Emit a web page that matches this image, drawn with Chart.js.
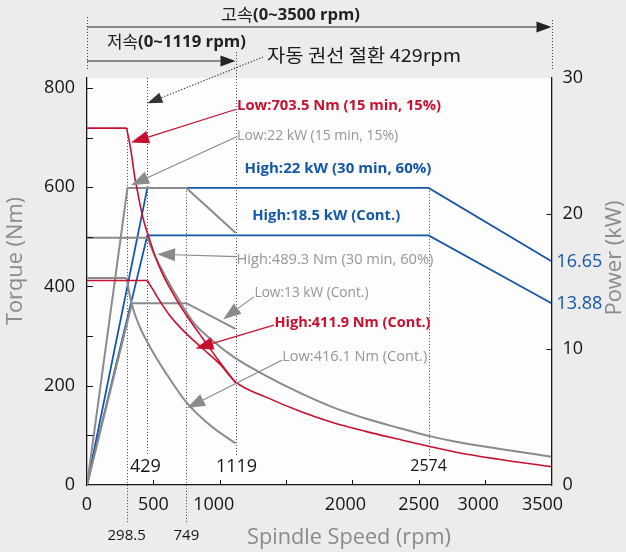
<!DOCTYPE html>
<html>
<head>
<meta charset="utf-8">
<script src="https://cdn.jsdelivr.net/npm/chart.js@4.4.1/dist/chart.umd.min.js"></script>
<style>
  html, body { margin: 0; padding: 0; background: #ececec; }
  #wrap { width: 626px; height: 552px; }
</style>
</head>
<body>
<div id="wrap"><canvas id="spindleChart"></canvas></div>
<script>
// ---- values ----
// torque curves (left axis, Nm) - first two points are the flat part
const lowPeakTorqueRpm = [0, 298.5, 327, 339, 357, 377, 402, 432, 465, 515, 566, 628, 700, 780, 870, 980, 1119];
const lowPeakTorqueNm  = [719, 719, 680, 660, 625, 596, 562, 528, 500, 460, 427, 395, 362, 330, 296, 255, 206];

const highContTorqueRpm = [0, 455, 500, 560, 628, 700, 780, 880, 1000, 1119, 1358, 1609, 1850, 2100, 2350, 2574, 2800, 3100, 3500];
const highContTorqueNm  = [412, 412, 392, 366, 340, 318, 297, 273, 244, 208, 176, 148, 126, 108, 92, 78, 65, 52, 37];

const high30TorqueRpm = [0, 455, 510, 566, 650, 803, 950, 1104, 1307, 1609, 1850, 2100, 2350, 2574, 2800, 3100, 3500];
const high30TorqueNm  = [498, 498, 462, 433, 392, 327, 290, 258, 226, 185, 157, 134, 115, 99, 86, 73, 57];

const lowContTorqueRpm = [0, 298.5, 335, 402, 503, 628, 754, 930, 1119];
const lowContTorqueNm  = [417, 417, 366, 316, 265, 212, 165, 120, 84];

// power lines (right axis, kW)
const lowPeakPowerRpm = [0, 305, 749, 1119];
const lowPeakPowerKw  = [0, 21.9, 21.9, 18.6];

const lowContPowerRpm = [0, 339, 749, 1119];
const lowContPowerKw  = [0, 13.4, 13.4, 11.5];

const high30PowerRpm = [0, 455, 2574, 3500];
const high30PowerKw  = [0, 21.9, 21.9, 16.5];

const highContPowerRpm = [0, 455, 2574, 3500];
const highContPowerKw  = [0, 18.4, 18.4, 13.4];

// axis ticks
const speedTicks = [0, 500, 1000, 2000, 2500, 3000, 3500];
const torqueTicks = [0, 200, 400, 600, 800];
const powerTicks = [0, 10, 20, 30];

// marked speeds (where the dotted lines sit) and their labels
const markerRpm  = [298.5, 455, 749, 1119, 2574];
const markerText = ['298.5', '429', '749', '1119', '2574'];

// end values written at the right axis
const endPowerText = ['16.65', '13.88'];

// ---- styles ----
const RED = '#c8102e';
const BLUE = '#1457a8';
const GRAY = '#8a8a8f';
const GRAY_TEXT = '#959595';
const INK = '#151515';
const LATIN = '"Open Sans", "Noto Sans", sans-serif';
const KOREAN = '"Noto Sans CJK KR", "Open Sans", sans-serif';
// the speed labels in the picture sit a little left of some ticks
const speedLabelShift = [0, 0, -6, -7, 0, -7, -9];

function pts(xs, ys) {
  return xs.map((x, i) => ({ x: x, y: ys[i] }));
}

function line(xs, ys, color, width, axis, smooth) {
  return {
    data: pts(xs, ys),
    yAxisID: axis,
    borderColor: color,
    borderWidth: width,
    pointRadius: 0,
    fill: false,
    tension: 0,
    cubicInterpolationMode: smooth ? 'monotone' : 'default'
  };
}

// flat part straight, falling part smooth
function torqueCurve(xs, ys, color, width) {
  return [
    line(xs.slice(0, 2), ys.slice(0, 2), color, width, 'yT', false),
    line(xs.slice(1), ys.slice(1), color, width, 'yT', true)
  ];
}

const datasets = [
  ...torqueCurve(lowPeakTorqueRpm, lowPeakTorqueNm, RED, 1.6),
  ...torqueCurve(highContTorqueRpm, highContTorqueNm, RED, 1.6),
  line(lowPeakPowerRpm, lowPeakPowerKw, GRAY, 2, 'yP', false),
  line(lowContPowerRpm, lowContPowerKw, GRAY, 2, 'yP', false),
  ...torqueCurve(high30TorqueRpm, high30TorqueNm, GRAY, 2),
  ...torqueCurve(lowContTorqueRpm, lowContTorqueNm, GRAY, 2),
  line(high30PowerRpm, high30PowerKw, BLUE, 1.8, 'yP', false),
  line(highContPowerRpm, highContPowerKw, BLUE, 1.8, 'yP', false)
];

// text callouts, anchored in (rpm, Nm)
const callouts = [
  { text: 'Low:703.5 Nm (15 min, 15%)', at: [1131, 764], w: 204, bold: true, color: RED, line: RED, from: [1124, 757], to: [332, 690] },
  { text: 'Low:22 kW (15 min, 15%)', at: [1131, 704], w: 161, color: GRAY_TEXT, line: GRAY, from: [1131, 702], to: [332, 604] },
  { text: 'High:22 kW (30 min, 60%)', at: [1186, 636], w: 187, bold: true, color: BLUE },
  { text: 'High:18.5 kW (Cont.)', at: [1245, 541], w: 148, bold: true, color: BLUE },
  { text: 'High:489.3 Nm (30 min, 60%)', at: [1126, 453], w: 197, color: GRAY_TEXT, line: GRAY, from: [1126, 460], to: [528, 465] },
  { text: 'Low:13 kW (Cont.)', at: [1262, 386], w: 114, color: GRAY_TEXT, line: GRAY, from: [1257, 379], to: [1026, 334] },
  { text: 'High:411.9 Nm (Cont.)', at: [1413, 326], w: 156, bold: true, color: RED, line: RED, from: [1408, 322], to: [817, 275] },
  { text: 'Low:416.1 Nm (Cont.)', at: [1471, 257], w: 145, color: GRAY_TEXT, line: GRAY, from: [1471, 252], to: [754, 155] }
];

function fitText(ctx, text, x, y, width, font, color, align) {
  ctx.save();
  ctx.font = font;
  ctx.fillStyle = color;
  ctx.textBaseline = 'middle';
  ctx.textAlign = align || 'left';
  const k = width ? width / ctx.measureText(text).width : 1;
  ctx.translate(x, y);
  ctx.scale(k, 1);
  ctx.fillText(text, 0, 0);
  ctx.restore();
}

function arrow(ctx, x1, y1, x2, y2, color, len, dotted) {
  const a = Math.atan2(y2 - y1, x2 - x1);
  const half = len * 0.36;
  const bx = x2 - len * Math.cos(a), by = y2 - len * Math.sin(a);
  ctx.save();
  ctx.strokeStyle = color;
  ctx.fillStyle = color;
  ctx.lineWidth = 1.2;
  if (dotted) ctx.setLineDash([1.2, 1.8]);
  ctx.beginPath();
  ctx.moveTo(x1, y1);
  ctx.lineTo(bx, by);
  ctx.stroke();
  ctx.setLineDash([]);
  ctx.beginPath();
  ctx.moveTo(x2, y2);
  ctx.lineTo(bx + half * Math.sin(a), by - half * Math.cos(a));
  ctx.lineTo(bx - half * Math.sin(a), by + half * Math.cos(a));
  ctx.closePath();
  ctx.fill();
  ctx.restore();
}

function dotted(ctx, x, y1, y2) {
  ctx.save();
  ctx.strokeStyle = '#444';
  ctx.lineWidth = 1;
  ctx.setLineDash([1, 2]);
  ctx.beginPath();
  ctx.moveTo(Math.round(x) + 0.5, y1);
  ctx.lineTo(Math.round(x) + 0.5, y2);
  ctx.stroke();
  ctx.restore();
}

//THIS DRAWS THE BACKGROUND AND THE WHITE PLOT AREA
const backdrop = {
  id: 'backdrop',
  beforeDraw(chart) {
    const { ctx, chartArea: a } = chart;
    ctx.save();
    ctx.fillStyle = '#ececec';
    ctx.fillRect(0, 0, chart.width, chart.height);
    ctx.fillStyle = '#fdfdfd';
    ctx.fillRect(a.left, a.top, a.right - a.left, a.bottom - a.top);
    ctx.restore();
  },
  beforeDatasetsDraw(chart) {
    const { ctx, chartArea: a, scales } = chart;
    const x = scales.x, yT = scales.yT, yP = scales.yP;
    // dotted marker lines
    dotted(ctx, x.getPixelForValue(markerRpm[0]), yT.getPixelForValue(lowPeakTorqueNm[0]), a.bottom + 39);
    dotted(ctx, x.getPixelForValue(markerRpm[1]), a.top, a.bottom - 29);
    dotted(ctx, x.getPixelForValue(markerRpm[2]), yP.getPixelForValue(lowPeakPowerKw[1]), a.bottom + 39);
    dotted(ctx, x.getPixelForValue(markerRpm[3]), 52, a.bottom - 29);
    dotted(ctx, x.getPixelForValue(markerRpm[4]), yP.getPixelForValue(high30PowerKw[1]), a.bottom - 29);
  }
};

//THIS DRAWS TICK MARKS, CALLOUTS, TITLES AND THE HEADER
const notes = {
  id: 'notes',
  afterDraw(chart) {
    const { ctx, chartArea: a, scales } = chart;
    const x = scales.x, yT = scales.yT, yP = scales.yP;

    // inward tick marks
    ctx.save();
    ctx.strokeStyle = INK;
    ctx.lineWidth = 1;
    ctx.beginPath();
    for (let v = 100; v <= 800; v += 100) {
      const y = Math.round(yT.getPixelForValue(v)) + 0.5;
      ctx.moveTo(a.left, y); ctx.lineTo(a.left + 6, y);
    }
    powerTicks.slice(1, 3).forEach(v => {
      const y = Math.round(yP.getPixelForValue(v)) + 0.5;
      ctx.moveTo(a.right, y); ctx.lineTo(a.right - 5, y);
    });
    for (let v = 500; v < 3500; v += 500) {
      const xx = Math.round(x.getPixelForValue(v)) + 0.5;
      ctx.moveTo(xx, a.bottom); ctx.lineTo(xx, a.bottom - 5);
    }
    ctx.stroke();
    ctx.restore();

    const num = size => size + 'px ' + LATIN;

    // speed tick labels
    speedTicks.forEach((v, i) => {
      fitText(ctx, String(v), x.getPixelForValue(v) + speedLabelShift[i], a.bottom + 20, 0, num(18), INK, 'center');
    });

    // marker labels
    fitText(ctx, markerText[1], x.getPixelForValue(markerRpm[1]) - 2, a.bottom - 18, 0, num(18), INK, 'center');
    fitText(ctx, markerText[3], x.getPixelForValue(markerRpm[3]) + 1, a.bottom - 18, 0, num(18), INK, 'center');
    fitText(ctx, markerText[4], x.getPixelForValue(markerRpm[4]), a.bottom - 19, 0, num(16), INK, 'center');
    fitText(ctx, markerText[0], x.getPixelForValue(markerRpm[0]), a.bottom + 51, 0, num(15), INK, 'center');
    fitText(ctx, markerText[2], x.getPixelForValue(markerRpm[2]), a.bottom + 51, 0, num(15), INK, 'center');

    // blue end values on the power axis
    fitText(ctx, endPowerText[0], a.right + 5, yP.getPixelForValue(high30PowerKw[3]) + 1, 0, num(18), BLUE);
    fitText(ctx, endPowerText[1], a.right + 5, yP.getPixelForValue(highContPowerKw[3]) + 1, 0, num(18), BLUE);

    // callouts
    callouts.forEach(c => {
      if (c.from) {
        arrow(ctx, x.getPixelForValue(c.from[0]), yT.getPixelForValue(c.from[1]),
              x.getPixelForValue(c.to[0]), yT.getPixelForValue(c.to[1]), c.line, 18);
      }
      const font = (c.bold ? '700 ' : '400 ') + '14px ' + LATIN;
      fitText(ctx, c.text, x.getPixelForValue(c.at[0]), yT.getPixelForValue(c.at[1]), c.w, font, c.color);
    });

    // axis titles
    const titleFont = '400 22px ' + LATIN;
    fitText(ctx, 'Spindle Speed (rpm)', 349, 538, 204, titleFont, GRAY, 'center');
    ctx.save();
    ctx.translate(16, 261);
    ctx.rotate(-Math.PI / 2);
    fitText(ctx, 'Torque (Nm)', 0, 0, 128, titleFont, GRAY, 'center');
    ctx.restore();
    ctx.save();
    ctx.translate(615, 258);
    ctx.rotate(-Math.PI / 2);
    fitText(ctx, 'Power (kW)', 0, 0, 115, titleFont, GRAY, 'center');
    ctx.restore();

    // header: speed ranges
    const x0 = x.getPixelForValue(0), xLow = x.getPixelForValue(1119), xHigh = x.getPixelForValue(3500);
    dotted(ctx, x0, 17, 70);
    dotted(ctx, xHigh, 20, 70);
    arrow(ctx, x0, 27, xHigh, 27, '#222', 15);
    arrow(ctx, x0, 61, xLow, 61, '#222', 15);
    fitText(ctx, '고속', 221, 15, 32, '400 17px ' + KOREAN, '#222');
    fitText(ctx, '(0~3500 rpm)', 253, 15, 107, '700 16.5px ' + LATIN, '#222');
    fitText(ctx, '저속', 107, 42, 31, '400 17px ' + KOREAN, '#222');
    fitText(ctx, '(0~1119 rpm)', 138, 42, 108, '700 16.5px ' + LATIN, '#222');
    fitText(ctx, '자동 권선 절환 429rpm', 267, 55, 194, '400 18px ' + KOREAN, '#1a1a1a');
    arrow(ctx, 263, 57, x.getPixelForValue(markerRpm[1]), yT.getPixelForValue(769), '#333', 15, true);
  }
};

new Chart(document.getElementById('spindleChart'), {
  type: 'line',
  data: { datasets: datasets },
  options: {
    responsive: true,
    maintainAspectRatio: false,
    animation: false,
    layout: { padding: { top: 78, left: 0, right: 0, bottom: 0 } },
    plugins: { legend: { display: false }, tooltip: { enabled: false } },
    scales: {
      x: {
        type: 'linear', position: 'bottom', min: 0, max: 3500,
        grid: { display: false, drawTicks: false },
        border: { display: true, color: INK, width: 1.3 },
        ticks: { display: false },
        afterFit: s => { s.height = 67; }
      },
      yT: {
        type: 'linear', position: 'left', min: 0, max: 820,
        grid: { display: false, drawTicks: false },
        border: { display: true, color: INK, width: 1.3 },
        afterBuildTicks: s => { s.ticks = torqueTicks.map(v => ({ value: v })); },
        ticks: { padding: 12, color: INK, font: { family: LATIN, size: 18 }, callback: v => String(v) },
        afterFit: s => { s.width = 87; }
      },
      yP: {
        type: 'linear', position: 'right', min: 0, max: 30,
        grid: { display: false, drawTicks: false },
        border: { display: true, color: INK, width: 1.3 },
        afterBuildTicks: s => { s.ticks = powerTicks.map(v => ({ value: v })); },
        ticks: { padding: 11, color: INK, font: { family: LATIN, size: 18 }, callback: v => String(v) },
        afterFit: s => { s.width = 74.5; }
      }
    }
  },
  plugins: [backdrop, notes]
});
</script>
</body>
</html>
